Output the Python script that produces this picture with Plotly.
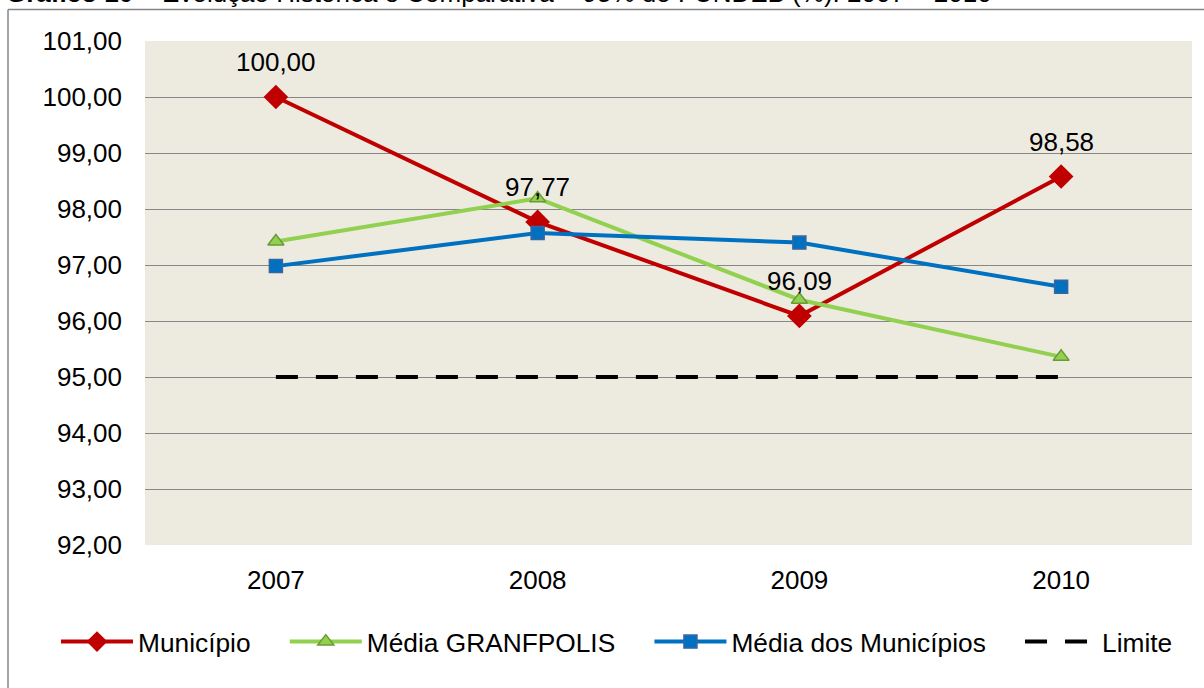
import plotly.graph_objects as go

years = ["2007", "2008", "2009", "2010"]
municipio = [100.00, 97.77, 96.09, 98.58]
granfpolis = [97.42, 98.19, 96.38, 95.36]
media_municipios = [96.98, 97.57, 97.40, 96.61]
limite = [95.00, 95.00, 95.00, 95.00]
y_ticks = [92, 93, 94, 95, 96, 97, 98, 99, 100, 101]
series_names = ["Município", "Média GRANFPOLIS", "Média dos Municípios", "Limite"]

title_text = "<b>Gráfico 10</b> – Evolução Histórica e Comparativa – 95% do FUNDEB (%): 2007 – 2010"

FONT = "Liberation Sans, Arial, sans-serif"
FS = 26
PAD = "\u00a0" * 4

fig = go.Figure()
fig.add_trace(go.Scatter(
    x=years, y=municipio, name=series_names[0] + PAD, mode="lines+markers",
    line=dict(color="#C00000", width=4),
    marker=dict(symbol="diamond", size=19, color="#C00000"),
))
fig.add_trace(go.Scatter(
    x=years, y=granfpolis, name=series_names[1] + PAD, mode="lines+markers",
    line=dict(color="#92D050", width=4),
    marker=dict(symbol="triangle-up", size=14, color="#92D050",
                line=dict(color="#6B9A35", width=1.5)),
))
fig.add_trace(go.Scatter(
    x=years, y=media_municipios, name=series_names[2] + PAD, mode="lines+markers",
    line=dict(color="#0070C0", width=4),
    marker=dict(symbol="square", size=13, color="#0070C0",
                line=dict(color="#3A64A0", width=1.5)),
))
fig.add_trace(go.Scatter(
    x=years, y=limite, name=series_names[3], mode="lines",
    line=dict(color="#000000", width=4, dash="22px,18px"),
))

for i, yv in enumerate(municipio):
    fig.add_annotation(
        x=i, y=yv, text=f"{yv:.2f}".replace(".", ","), showarrow=False,
        yshift=35, font=dict(family=FONT, size=FS, color="#000000"),
    )

fig.add_annotation(
    xref="paper", yref="paper", x=-0.1347, y=1.0616, xanchor="left", yanchor="bottom",
    text=title_text, showarrow=False,
    font=dict(family=FONT, size=FS, color="#000000"),
)

# outer chart frame (left and top edges visible in the reference)
fig.add_shape(type="line", xref="paper", yref="paper",
              x0=-0.13085, x1=-0.13085, y0=-0.40, y1=1.0625,
              line=dict(color="#868686", width=1.5), layer="below")
fig.add_shape(type="line", xref="paper", yref="paper",
              x0=-0.13085, x1=1.10, y0=1.0625, y1=1.0625,
              line=dict(color="#868686", width=1.5), layer="below")

fig.update_layout(
    width=1204, height=688,
    margin=dict(l=145, r=12, t=41, b=143),
    paper_bgcolor="#FFFFFF",
    plot_bgcolor="#EDEBE0",
    separators=",.",
    font=dict(family=FONT, size=FS, color="#000000"),
    showlegend=True,
    legend=dict(
        orientation="h", x=-0.0850, xanchor="left", y=-0.1925, yanchor="middle",
        font=dict(family=FONT, size=26.3, color="#000000"),
        bgcolor="rgba(0,0,0,0)", itemwidth=72,
    ),
    xaxis=dict(
        type="category", range=[-0.5, 3.5], showgrid=False, zeroline=False,
        showline=False, ticks="", tickfont=dict(size=FS), ticklabelstandoff=17,
    ),
    yaxis=dict(
        range=[92, 101], tickvals=y_ticks, tickformat=".2f",
        showgrid=True, gridcolor="#878787", gridwidth=1.3,
        zeroline=False, showline=False, ticks="", tickfont=dict(size=FS),
        ticklabelstandoff=22,
    ),
)

fig.write_html("out.html", config={"displayModeBar": False},
               post_script="document.body.style.margin='0';")
